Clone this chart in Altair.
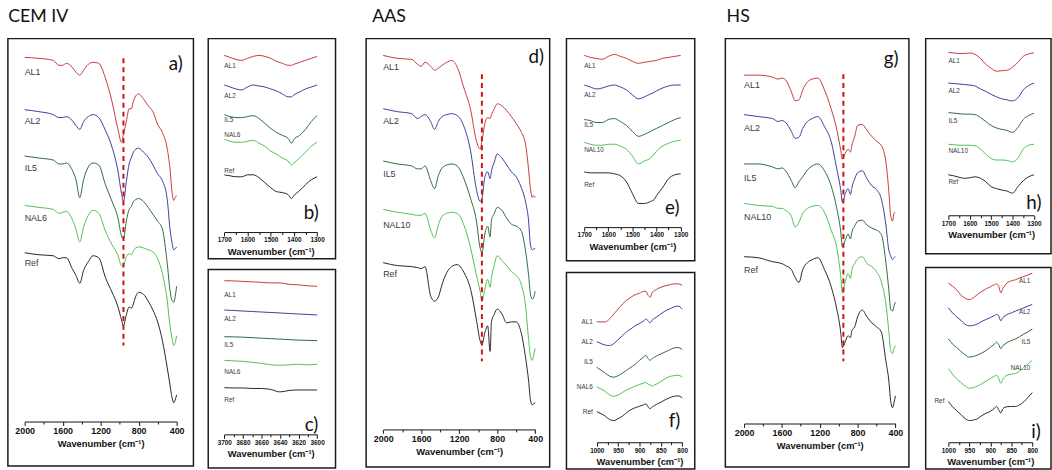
import altair as alt
import pandas as pd

# ---------------------------------------------------------------
# FTIR spectra of the three binders (stacked, arbitrary units)
# ---------------------------------------------------------------
SERIES_ORDER = ["AL1", "AL2", "IL5", "NAL6", "NAL10", "Ref"]
SERIES_COLORS = ["#c23a3a", "#3c3c9e", "#2f6a3a", "#4fc04f", "#4fc04f", "#262626"]

# wavenumber grids (cm-1)
WN_FULL = [2000, 1850, 1700, 1640, 1600, 1560, 1500, 1460, 1420, 1380, 1330, 1280,
           1220, 1150, 1080, 1020, 980, 960, 930, 900, 875, 860, 830, 800, 750,
           700, 650, 600, 550, 500, 470, 450, 430, 415, 400]
WN_CARB = [1700, 1675, 1650, 1625, 1600, 1575, 1550, 1525, 1500, 1475, 1450,
           1425, 1410, 1400, 1375, 1350, 1325, 1300]
WN_OH = [3700, 3690, 3680, 3670, 3660, 3650, 3640, 3630, 3620, 3610, 3600]
WN_SI = [1000, 990, 980, 970, 960, 950, 940, 930, 920, 910, 900, 890, 885, 880,
         875, 870, 865, 860, 850, 840, 830, 820, 810, 800]

# ---- CEM IV ----
a_AL1 = [414, 413, 411, 406, 406, 408, 404, 399, 396, 401, 407, 409, 408, 393, 369, 342, 328, 336,
         349, 362, 362, 368, 375, 377, 372, 365, 359, 346, 338, 322, 301, 279, 269, 272, 274]
a_AL2 = [361, 359, 356, 353, 353, 354, 350, 345, 341, 349, 354, 356, 353, 340, 323, 300, 276, 268,
         288, 306, 313, 317, 321, 322, 318, 313, 305, 296, 289, 271, 240, 227, 219, 220, 222]
a_IL5 = [314, 312, 310, 306, 306, 307, 300, 290, 272, 290, 303, 307, 305, 285, 268, 252, 233, 230,
         248, 260, 263, 267, 270, 271, 268, 262, 255, 248, 240, 206, 178, 168, 166, 172, 182]
a_NAL6 = [264, 262, 260, 256, 257, 258, 250, 240, 227, 242, 254, 259, 256, 238, 224, 214, 203, 203,
          212, 215, 214, 217, 221, 222, 221, 219, 217, 210, 195, 168, 142, 130, 122, 125, 132]
a_Ref = [216, 214, 213, 210, 211, 211, 200, 193, 185, 198, 207, 213, 211, 191, 176, 162, 148, 142,
         153, 161, 160, 163, 172, 176, 174, 167, 158, 146, 127, 100, 82, 70, 64, 67, 72]

b_AL1 = [206, 204, 202, 201, 203, 205, 206, 205, 203, 200, 198, 196, 196, 197, 199, 201, 203, 205]
b_AL2 = [176, 174, 172, 171, 174, 176, 175, 174, 172, 170, 167, 164, 164, 166, 169, 172, 174, 176]
b_IL5 = [146, 144, 143, 143, 144, 145, 142, 137, 132, 128, 125, 122, 117, 121, 125, 131, 139, 145]
b_NAL6 = [121, 119, 118, 118, 119, 120, 117, 114, 109, 106, 102, 99, 95, 97, 102, 108, 114, 118]
b_Ref = [85, 84, 83, 83, 85, 85, 82, 77, 72, 68, 67, 65, 61, 64, 69, 75, 80, 83]

c_AL1 = [189.7, 189.5, 189, 188.6, 188, 187.5, 187.5, 186, 185.5, 184.5, 184]
c_AL2 = [160, 159.5, 159, 158.5, 158, 157.5, 157, 156.5, 156, 155.5, 155]
c_IL5 = [133, 132.8, 132.5, 132, 131.5, 131, 130.5, 130, 129.5, 129.2, 129]
c_NAL6 = [109, 108.5, 108, 107, 106, 104.5, 104, 104.5, 105, 104.5, 105]
c_Ref = [81.3, 81, 81, 80.5, 80.5, 79.5, 77, 78.5, 79, 79, 79]

# ---- AAS ----
d_AL1 = [417, 414, 413, 408, 406, 410, 406, 402, 404, 407, 410, 412, 405, 384, 362, 331, 322, 330,
         348, 354, 353, 357, 363, 368, 366, 361, 355, 348, 340, 326, 302, 282, 273, 275, 273]
d_AL2 = [363, 360, 358, 353, 355, 357, 350, 342, 350, 355, 357, 358, 356, 345, 320, 282, 269, 272,
         294, 299, 292, 300, 309, 317, 313, 306, 299, 294, 284, 268, 250, 225, 220, 221, 221]
d_IL5 = [310, 307, 305, 302, 302, 305, 290, 282, 295, 303, 306, 307, 305, 292, 272, 250, 222, 217,
         236, 244, 233, 250, 257, 263, 260, 252, 246, 244, 240, 218, 195, 175, 170, 172, 178]
d_NAL10 = [261, 258, 256, 255, 255, 257, 240, 232, 245, 254, 257, 258, 257, 245, 222, 195, 178, 168,
           180, 190, 182, 192, 205, 214, 209, 204, 198, 194, 186, 162, 130, 112, 108, 114, 120]
d_Ref = [207, 204, 203, 202, 201, 203, 173, 168, 172, 185, 197, 203, 205, 197, 180, 150, 128, 124,
         136, 143, 117, 147, 155, 160, 155, 146, 147, 147, 137, 110, 88, 68, 63, 64, 65]

e_AL1 = [208, 206, 205, 204, 207, 209, 207, 205, 202, 200, 201, 202, 202.5, 203, 205, 206, 207, 208]
e_AL2 = [178, 176, 174, 175, 177, 178, 176, 173, 168, 164, 166, 169, 170.5, 172, 175, 177, 178, 178]
e_IL5 = [143, 142, 140, 140, 143, 144, 141, 137, 131, 126, 128, 131, 133, 134, 137, 140, 143, 145]
e_NAL10 = [120, 118, 117, 117, 118, 118, 116, 113, 106, 98, 101, 104, 108, 111, 116, 119, 121, 122]
e_Ref = [90, 89, 89, 89, 89, 88, 86, 80, 68, 58, 58, 60, 62, 66, 74, 83, 87, 88]

f_AL1 = [149, 149, 149, 152, 157, 162, 167, 171, 174, 176.5, 178, 180, 180, 176, 174, 179, 180.5,
         182, 184, 185.5, 186.5, 187.5, 187.5, 186]
f_AL2 = [129, 127, 125.5, 125, 127, 131, 135, 139, 142, 145, 147.5, 150, 152, 150, 148, 151, 152.5,
         154, 157, 160, 162, 164, 165, 162]
f_IL5 = [103, 100, 97, 94, 93, 94.5, 97, 100, 103, 106, 110, 113.5, 115, 112, 110, 112, 113,
         114.5, 116.5, 118.5, 120.5, 122.5, 123, 121]
f_NAL6 = [83, 81, 78.5, 75, 73.5, 75, 77.5, 80, 82, 84, 85.5, 87, 87.5, 86, 85, 84, 85, 86, 88.5,
          91.5, 93.5, 94.5, 95, 93]
f_Ref = [58, 56, 53.5, 50, 49, 51, 53.5, 57, 60, 62, 63.5, 65, 66, 63, 61, 63, 64, 65.5, 67.5,
         70, 72, 73.5, 74, 72]

# ---- HS ----
g_AL1 = [397, 397, 395, 393, 394, 392, 380, 371, 372, 382, 390, 393, 394, 382, 363, 342, 322, 312,
         318, 322, 319, 326, 335, 346, 347, 341, 335, 330, 326, 309, 280, 255, 249, 257, 258]
g_AL2 = [357, 355, 353, 350, 351, 349, 340, 333, 334, 343, 350, 353, 355, 345, 330, 302, 282, 268,
         277, 282, 276, 283, 292, 298, 300, 292, 285, 281, 272, 245, 220, 214, 210, 212, 213]
g_IL5 = [307, 307, 304, 302, 303, 300, 290, 283, 289, 294, 301, 305, 307, 300, 285, 262, 240, 223,
         230, 236, 231, 238, 244, 249, 250, 245, 242, 240, 236, 207, 180, 160, 158, 163, 167]
g_NAL10 = [267, 265, 264, 262, 262, 260, 254, 243, 248, 257, 262, 264, 265, 258, 240, 222, 195, 176,
           188, 196, 191, 200, 206, 211, 213, 206, 203, 198, 188, 165, 138, 118, 115, 120, 123]
g_Ref = [213, 212, 208, 207, 206, 204, 200, 192, 187, 200, 207, 210, 212, 200, 183, 160, 138, 121,
         127, 133, 131, 138, 142, 152, 159, 152, 146, 142, 137, 107, 88, 67, 60, 65, 72]

h_AL1 = [204, 203.5, 203, 203, 203.5, 202, 198, 192, 188, 185, 185.5, 186, 187.5, 189, 194, 200, 202.5, 203.5]
h_AL2 = [173, 172.5, 172, 171.5, 171, 170, 167, 164.5, 161.5, 159, 157, 156, 155, 155, 158, 166, 170.5, 173]
h_IL5 = [143, 142.5, 142, 141.5, 141.5, 141, 138, 134, 130, 127.5, 126, 125, 123.5, 123, 128, 136, 140, 142.3]
h_NAL10 = [111, 110.5, 110, 110, 110, 109.5, 106, 101, 96.5, 95, 95, 94.5, 93.5, 93, 97, 106, 110, 111]
h_Ref = [80, 79, 77.5, 76.5, 77, 78, 76.5, 73, 68, 66, 64.5, 63.5, 62, 61.5, 68, 74, 78, 80]

i_AL1 = [188.3, 185, 181.5, 176, 173, 171.5, 173.5, 177, 180, 182.5, 184.5, 186.7, 187.5, 185,
         178.3, 183, 186, 188.5, 190.5, 191.7, 193.5, 195, 196.5, 198.3]
i_AL2 = [163.3, 158, 154, 150.5, 146.5, 145, 145.5, 147, 149.5, 151.5, 153.3, 155.5, 156.7, 155,
         150, 153.5, 155, 156.5, 158, 160, 161.5, 163.3, 165, 166.7]
i_IL5 = [131.7, 126.5, 123, 119, 115.5, 113.3, 114, 115.5, 117.5, 120, 123.3, 126.5, 128.3, 126,
         121.7, 125, 126.5, 128, 130, 131.7, 134, 136.7, 139, 141.7]
i_NAL10 = [101.7, 96, 91, 87.5, 84, 81.7, 82.5, 84, 86.5, 89, 91.7, 94, 95, 92, 86.7, 91, 93.5,
           95, 96, 96.7, 99, 103, 106.5, 110]
i_Ref = [68.3, 63, 59, 55, 51, 49, 49.5, 51, 54, 56.5, 58.3, 61.5, 63.3, 60, 56.7, 61, 62.5, 63,
         63.3, 63.3, 65, 68, 72.5, 77.3]

AXIS_TITLE = "Wavenumber (cm\u207b\u00b9)"
LABEL_FONT = "Liberation Sans"


def long_frame(grid, series):
    rows = []
    for name, values in series.items():
        for w, v in zip(grid, values):
            rows.append({"w": w, "v": v, "s": name})
    return pd.DataFrame(rows)


def spectra_panel(grid, series, *, width, height, xdom, xrange, ticks, major,
                  axis_offset, tick_font, name_font, name_dy, name_side,
                  letter, letter_at, dash=None):
    df = long_frame(grid, series)
    x = alt.X(
        "w:Q",
        scale=alt.Scale(domain=xdom, range=xrange, nice=False, zero=False),
        axis=alt.Axis(
            values=ticks, format="d",
            labelExpr=f"datum.value % {major} === 0 ? datum.label : ''",
            tickSize={"condition": {"test": f"datum.value % {major} === 0", "value": 4},
                      "value": 2.5},
            offset=axis_offset, title=AXIS_TITLE, grid=False,
            labelFont=LABEL_FONT, labelFontSize=tick_font, labelFontWeight="bold",
            titleFont=LABEL_FONT, titleFontSize=9.5, titleFontWeight="bold",
            labelColor="#111", titleColor="#111", domainColor="#111", tickColor="#111",
            labelPadding=1, titlePadding=3, labelFlush=False, labelOverlap=False,
        ),
    )
    y = alt.Y("v:Q", scale=alt.Scale(domain=[0, height], nice=False, zero=False), axis=None)
    color = alt.Color("s:N", scale=alt.Scale(domain=SERIES_ORDER, range=SERIES_COLORS), legend=None)

    layers = [alt.Chart(df).mark_line(strokeWidth=1, interpolate="monotone").encode(x=x, y=y, color=color)]

    # series names next to their traces: one text layer per (side, vertical shift)
    groups = {}
    for name, values in series.items():
        side = name_side[name] if isinstance(name_side, dict) else name_side
        dy = name_dy[name] if isinstance(name_dy, dict) else name_dy
        idx = -1 if side == "end" else 0
        groups.setdefault((side, dy), []).append({"w": grid[idx], "v": values[idx], "s": name})
    for (side, dy), rows in groups.items():
        if side == "start":
            mk = dict(align="left", dx=0, dy=dy)
        elif side == "before":
            mk = dict(align="right", dx=-4, dy=dy)
        else:
            mk = dict(align="right", dx=-2, dy=dy)
        layers.append(
            alt.Chart(pd.DataFrame(rows)).mark_text(
                font=LABEL_FONT, fontSize=name_font, color="#3a3a3a", baseline="middle", **mk
            ).encode(x=x, y=y, text="s:N")
        )

    if dash is not None:
        layers.append(
            alt.Chart(pd.DataFrame([{"w": dash[0], "v": dash[1], "v2": dash[2]}]))
            .mark_rule(color="#cc1111", strokeDash=[5, 4], strokeWidth=2)
            .encode(x=x, y=y, y2="v2:Q")
        )

    layers.append(
        alt.Chart(pd.DataFrame([{"w": letter_at[0], "v": letter_at[1], "t": letter}]))
        .mark_text(font="Lato", fontSize=19, color="#111", align="center", baseline="middle")
        .encode(x=x, y=y, text="t:N")
    )
    return alt.layer(*layers).properties(width=width, height=height)


TICKS_FULL = list(range(2000, 399, -200))
TICKS_CARB = list(range(1700, 1299, -50))
TICKS_OH = list(range(3700, 3599, -10))
TICKS_SI = list(range(1000, 799, -25))

# ---------------- CEM IV ----------------
pa = spectra_panel(WN_FULL, {"AL1": a_AL1, "AL2": a_AL2, "IL5": a_IL5, "NAL6": a_NAL6, "Ref": a_Ref},
                   width=188, height=433, xdom=[2000, 400], xrange=[17, 171], ticks=TICKS_FULL,
                   major=400, axis_offset=-45, tick_font=9, name_font=9,
                   name_dy={"AL1": 15, "AL2": 12, "IL5": 12, "NAL6": 13, "Ref": 10},
                   name_side="start", letter="a)", letter_at=(410, 407), dash=(960, 413, 122))
pb = spectra_panel(WN_CARB, {"AL1": b_AL1, "AL2": b_AL2, "IL5": b_IL5, "NAL6": b_NAL6, "Ref": b_Ref},
                   width=129, height=223, xdom=[1700, 1300], xrange=[16.3, 110.3], ticks=TICKS_CARB,
                   major=100, axis_offset=-27, tick_font=6.5, name_font=6.5,
                   name_dy={"AL1": 11, "AL2": 11, "IL5": 5, "NAL6": -4, "Ref": -4},
                   name_side="start", letter="b)", letter_at=(1325, 46))
pc = spectra_panel(WN_OH, {"AL1": c_AL1, "AL2": c_AL2, "IL5": c_IL5, "NAL6": c_NAL6, "Ref": c_Ref},
                   width=129, height=201, xdom=[3700, 3600], xrange=[16.3, 110.3], ticks=TICKS_OH,
                   major=20, axis_offset=-34, tick_font=6.5, name_font=6.5,
                   name_dy={"AL1": 14, "AL2": 9, "IL5": 8, "NAL6": 12, "Ref": 13},
                   name_side="start", letter="c)", letter_at=(3606, 43))

# ---------------- AAS ----------------
pd_ = spectra_panel(WN_FULL, {"AL1": d_AL1, "AL2": d_AL2, "IL5": d_IL5, "NAL10": d_NAL10, "Ref": d_Ref},
                    width=186, height=434, xdom=[2000, 400], xrange=[17.3, 171.3], ticks=TICKS_FULL,
                    major=400, axis_offset=-38, tick_font=9, name_font=9,
                    name_dy={"AL1": 12, "AL2": 13, "IL5": 13, "NAL10": 16, "Ref": 12},
                    name_side="start", letter="d)", letter_at=(390, 415), dash=(961, 398, 107))
pe = spectra_panel(WN_CARB, {"AL1": e_AL1, "AL2": e_AL2, "IL5": e_IL5, "NAL10": e_NAL10, "Ref": e_Ref},
                   width=130, height=225, xdom=[1700, 1300], xrange=[18, 115.7], ticks=TICKS_CARB,
                   major=100, axis_offset=-34, tick_font=6.5, name_font=6.5,
                   name_dy={"AL1": 11, "AL2": 10, "IL5": 6, "NAL10": 8, "Ref": 13},
                   name_side="start", letter="e)", letter_at=(1335, 53))
pf = spectra_panel(WN_SI, {"AL1": f_AL1, "AL2": f_AL2, "IL5": f_IL5, "NAL6": f_NAL6, "Ref": f_Ref},
                   width=130, height=199, xdom=[1000, 800], xrange=[30.7, 117.3], ticks=TICKS_SI,
                   major=50, axis_offset=-27, tick_font=6.5, name_font=6.5,
                   name_dy={"AL1": 0, "AL2": 0, "IL5": -5, "NAL6": 0, "Ref": 0},
                   name_side="before", letter="f)", letter_at=(818, 48))

# ---------------- HS ----------------
pg = spectra_panel(WN_FULL, {"AL1": g_AL1, "AL2": g_AL2, "IL5": g_IL5, "NAL10": g_NAL10, "Ref": g_Ref},
                   width=186, height=434, xdom=[2000, 400], xrange=[19, 172.3], ticks=TICKS_FULL,
                   major=400, axis_offset=-44, tick_font=9, name_font=9,
                   name_dy={"AL1": 10, "AL2": 14, "IL5": 14, "NAL10": 14, "Ref": 13},
                   name_side="start", letter="g)", letter_at=(445, 413), dash=(950, 398, 107))
ph = spectra_panel(WN_CARB, {"AL1": h_AL1, "AL2": h_AL2, "IL5": h_IL5, "NAL10": h_NAL10, "Ref": h_Ref},
                   width=127, height=218, xdom=[1700, 1300], xrange=[23, 109.7], ticks=TICKS_CARB,
                   major=100, axis_offset=-39, tick_font=6.5, name_font=6.5,
                   name_dy={"AL1": 9, "AL2": 8, "IL5": 8, "NAL10": 7, "Ref": 7},
                   name_side="start", letter="h)", letter_at=(1300, 51))
pi = spectra_panel(WN_SI, {"AL1": i_AL1, "AL2": i_AL2, "IL5": i_IL5, "NAL10": i_NAL10, "Ref": i_Ref},
                   width=127, height=204, xdom=[1000, 800], xrange=[23, 108], ticks=TICKS_SI,
                   major=50, axis_offset=-27, tick_font=6.5, name_font=6.5,
                   name_dy={"AL1": 8, "AL2": 8, "IL5": 13, "NAL10": 8, "Ref": 0},
                   name_side={"AL1": "end", "AL2": "end", "IL5": "end", "NAL10": "end", "Ref": "before"},
                   letter="i)", letter_at=(791, 37))


def group(title, dx, big, top, bottom, hspace, vspace):
    return alt.hconcat(
        big, alt.vconcat(top, bottom, spacing=vspace), spacing=hspace,
        title=alt.TitleParams(text=title, anchor="start", dx=dx, font="Lato", fontSize=18,
                              fontWeight="normal", color="#111", offset=12),
    )


chart = alt.hconcat(
    group("CEM IV", 1, pa, pb, pc, 13, 9),
    group("AAS", 7, pd_, pe, pf, 15, 10),
    group("HS", 2, pg, ph, pi, 15, 12),
    spacing=29,
).properties(
    padding={"left": 7, "top": 5, "right": 0, "bottom": 0},
    background="white",
).configure_view(stroke="#1a1a1a", strokeWidth=1.5)

chart.save("out.html", embed_options={"renderer": "svg", "actions": False})
